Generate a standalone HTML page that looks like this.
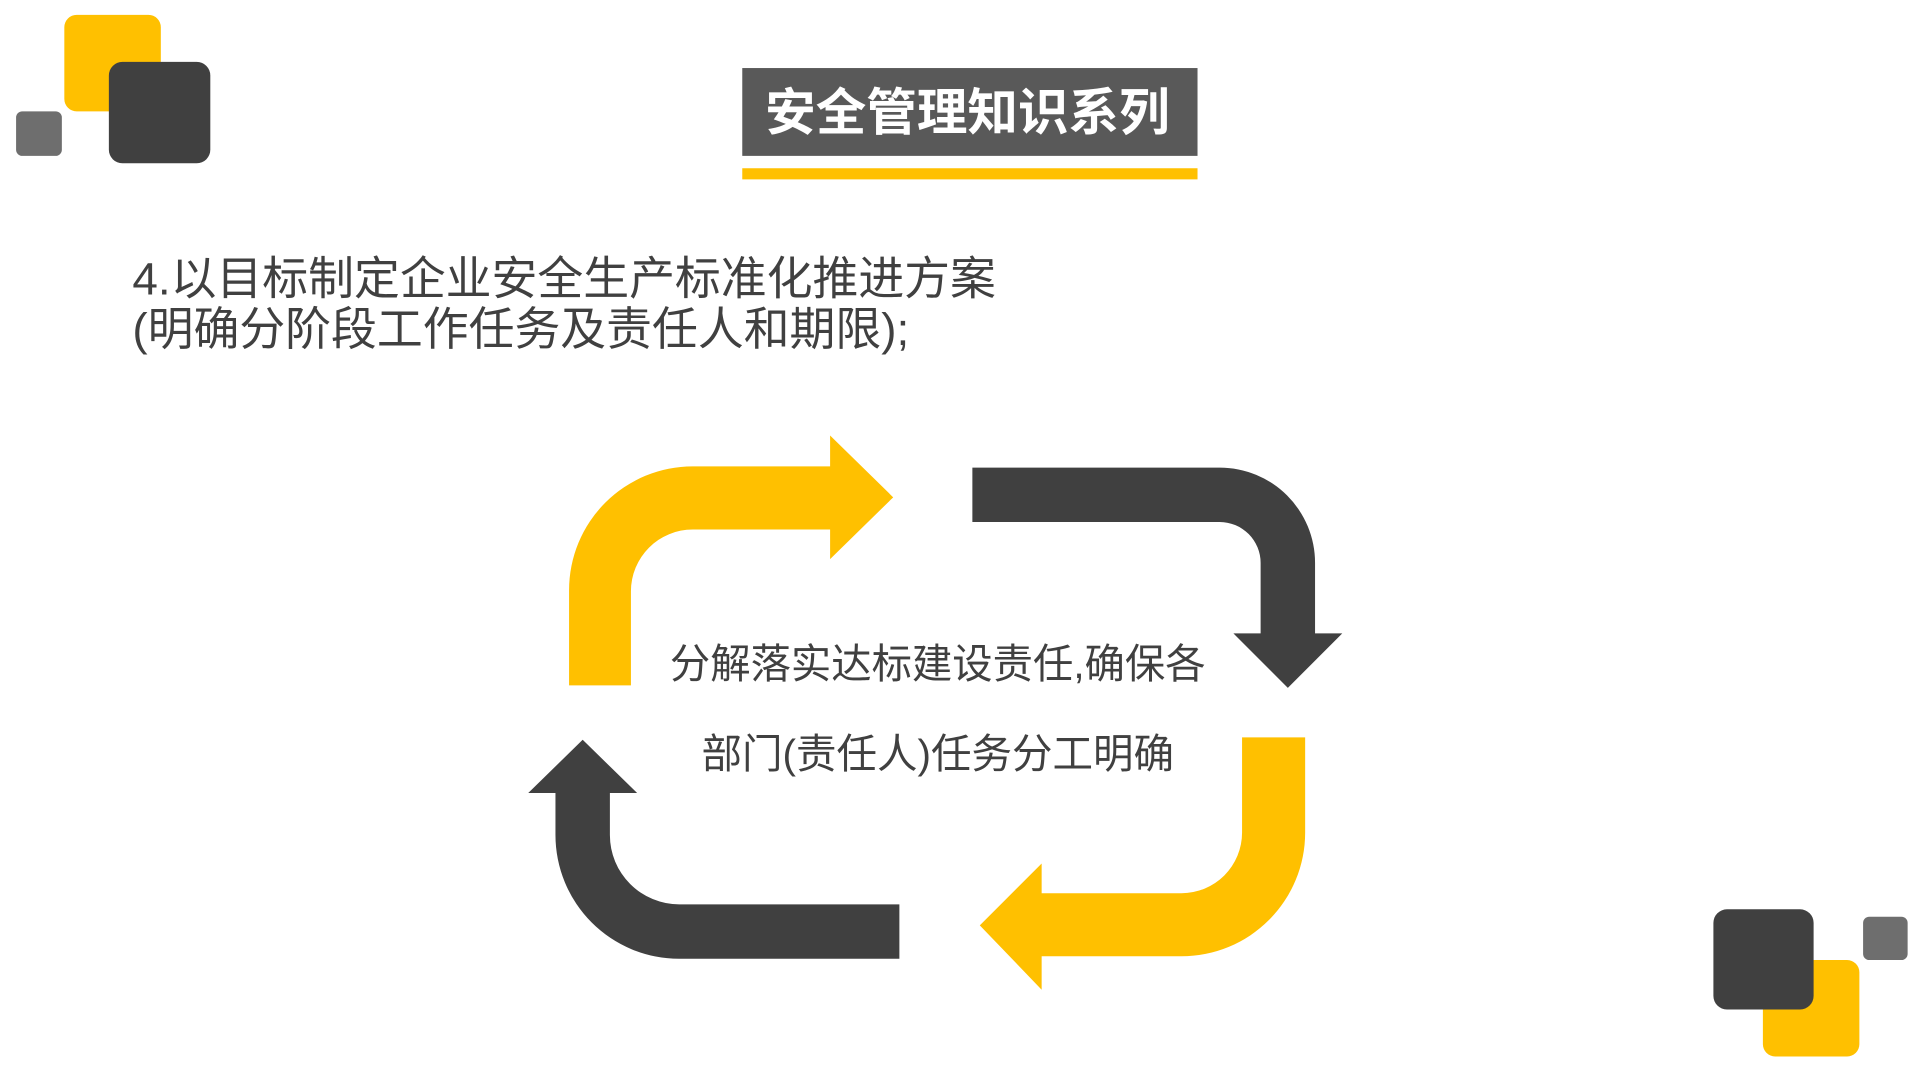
<!DOCTYPE html>
<html><head><meta charset="utf-8"><style>
html,body{margin:0;padding:0;background:#fff;}
svg{display:block;}
text{font-family:"Liberation Sans","Noto Sans CJK SC",sans-serif;}
</style></head><body>
<svg width="1920" height="1080" viewBox="0 0 1552 873" preserveAspectRatio="none" xmlns="http://www.w3.org/2000/svg">
<rect x="52" y="12" width="78" height="78" rx="10" fill="#FFC000"/>
<rect x="13" y="90" width="37" height="36" rx="5" fill="#6e6e6e"/>
<rect x="88" y="50" width="82" height="82" rx="11" fill="#404040"/>
<rect x="1425" y="776" width="78" height="78" rx="10" fill="#FFC000"/>
<rect x="1385" y="735" width="81" height="81" rx="11" fill="#404040"/>
<rect x="1506" y="741" width="36" height="35" rx="5" fill="#6e6e6e"/>
<rect x="600" y="55" width="368" height="71" fill="#595959"/>
<rect x="600" y="136" width="368" height="9" fill="#FFC000"/>
<text x="782" y="105" text-anchor="middle" font-size="41" font-weight="bold" fill="#fff" textLength="327" lengthAdjust="spacingAndGlyphs">安全管理知识系列</text>
<text x="107" y="238" font-size="37" fill="#404040" textLength="698" lengthAdjust="spacingAndGlyphs">4.以目标制定企业安全生产标准化推进方案</text>
<text x="107" y="279" font-size="37" fill="#404040" textLength="628" lengthAdjust="spacingAndGlyphs">(明确分阶段工作任务及责任人和期限);</text>
<path d="M460,554 L460,477 A100,100 0 0 1 560,377 L671,377 L671,352 L722,402 L671,452 L671,428 L560,428 A50,50 0 0 0 510,478 L510,554 Z" fill="#FFC000"/>
<path d="M786,378 L986,378 A77,77 0 0 1 1063,455 L1063,512 L1085,512 L1041,556 L997,512 L1019,512 L1019,455 A33,33 0 0 0 986,422 L786,422 Z" fill="#404040"/>
<path d="M1004,596 L1055,596 L1055,673 A100,100 0 0 1 955,773 L842,773 L842,800 L792,748 L842,698 L842,722 L955,722 A49,49 0 0 0 1004,673 Z" fill="#FFC000"/>
<path d="M727,731 L727,775 L549,775 A100,100 0 0 1 449,675 L449,641 L427,641 L471,598 L515,641 L493,641 L493,675 A56,56 0 0 0 549,731 Z" fill="#404040"/>
<text x="758" y="548" text-anchor="middle" font-size="33" fill="#404040" textLength="433" lengthAdjust="spacingAndGlyphs">分解落实达标建设责任,确保各</text>
<text x="758" y="621" text-anchor="middle" font-size="33" fill="#404040" textLength="382" lengthAdjust="spacingAndGlyphs">部门(责任人)任务分工明确</text>
</svg>
</body></html>
